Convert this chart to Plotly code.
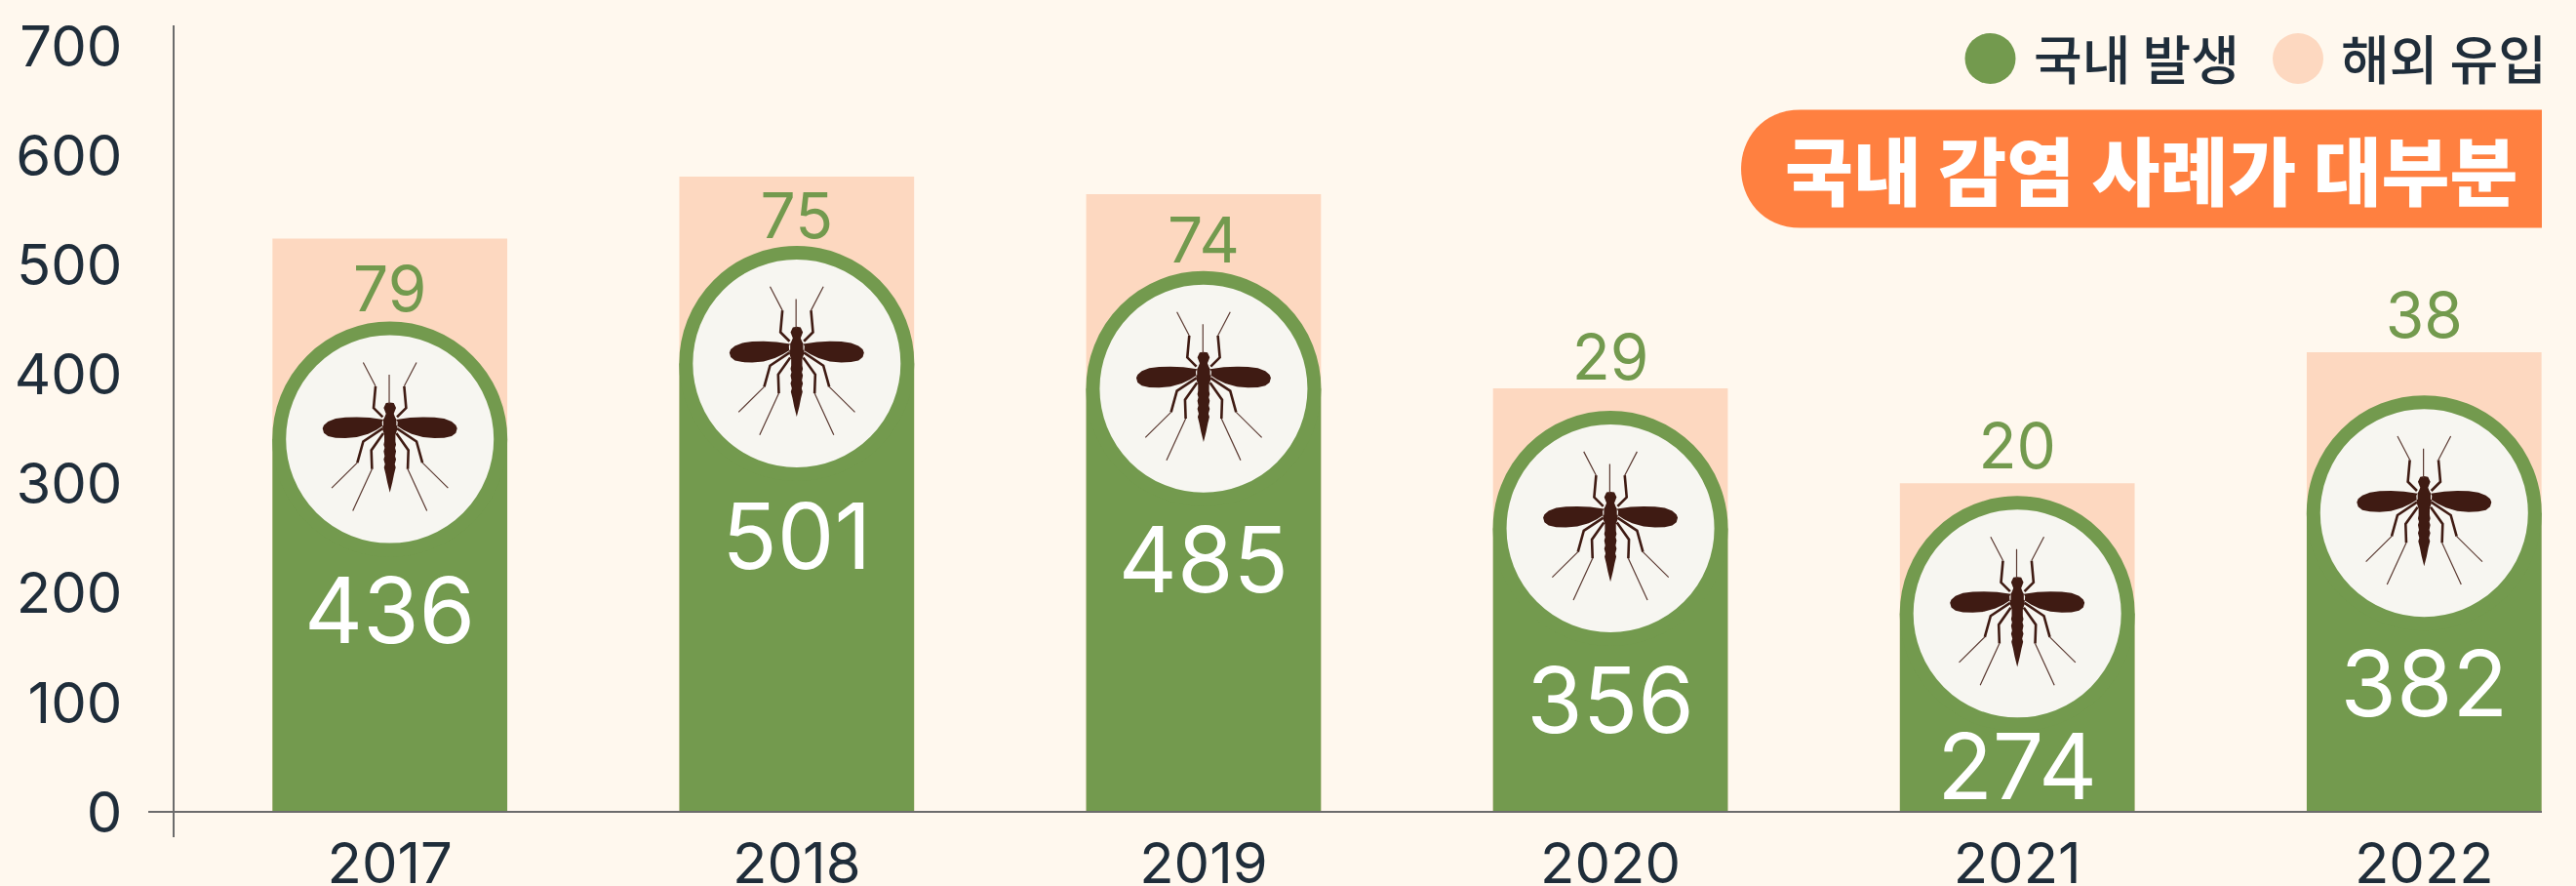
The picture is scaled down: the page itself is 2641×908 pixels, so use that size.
import plotly.graph_objects as go

years = [2017, 2018, 2019, 2020, 2021, 2022]
domestic_labels = [436, 501, 485, 356, 274, 382]
imported_labels = [79, 75, 74, 29, 20, 38]
# heights as read against the printed y axis
total_height = [524.6, 581.1, 565.0, 387.5, 300.8, 420.5]
domestic_height = [448.4, 517.7, 494.6, 366.8, 288.9, 381.0]
imported_label_y = [472.0, 539.4, 517.3, 410.1, 328.3, 448.6]
domestic_label_y = [175.1, 243.5, 221.4, 93.6, 33.0, 108.4]
y_ticks = [0, 100, 200, 300, 400, 500, 600, 700]
legend_names = ["국내 발생", "해외 유입"]
callout = "국내 감염 사례가 대부분"

GREEN, PEACH, BG, DISC, BUG, INK, AXIS, ORANGE = (
    "#739a4e", "#fdd8c0", "#fff8ee", "#f7f6f1", "#3f1b13", "#1f2d3a", "#6c6c6c", "#ff8040")
W, H = 2641, 908
L, R, T, B = 152, 2606, 25.5, 858
Y0, K = 832.3, 1.1214
X0, DX = 399.7, 417.12
NUM, CJK = "Inter", "Noto Sans CJK KR"


def px(p):
    return (p - L) / (R - L)


def py(p):
    return (B - p) / (B - T)


fig = go.Figure()
centre_y = [v - 120.4 / K for v in domestic_height]
fig.add_bar(x=years, y=total_height, width=0.5771, marker=dict(color=PEACH, line_width=0))
# the green column runs up to the disc's centre; the ringed disc forms its round head
fig.add_bar(x=years, y=centre_y, width=0.5771, marker=dict(color=GREEN, line_width=0))
fig.add_scatter(x=years, y=centre_y, mode="markers",
                marker=dict(size=227, color=DISC, line=dict(color=GREEN, width=14)))
fig.add_scatter(x=years, y=imported_label_y, mode="text", text=[str(v) for v in imported_labels],
                textposition="middle center", cliponaxis=False,
                textfont=dict(family=NUM, size=64, color=GREEN, weight=400))
fig.add_scatter(x=years, y=domestic_label_y, mode="text", text=[str(v) for v in domestic_labels],
                textposition="middle center", cliponaxis=False,
                textfont=dict(family=NUM, size=93, color="#ffffff", weight=400))


# ---- mosquito glyph: points measured in a 3x crop, centred on the disc
def g(p):
    return ((p[0] - 388) / 3, (358 - p[1]) / 3)


def mirror(p):
    return (776 - p[0], p[1])


def poly(points, close=True):
    s = "M" + " L".join(f"{x:.2f},{y:.2f}" for x, y in map(g, points))
    return s + (" Z" if close else "")


right_body = [(388, 245), (400, 247), (407, 262), (400, 280), (404, 290), (412, 305), (410, 330),
              (405, 345), (405, 365), (407, 375), (404, 385), (407, 395), (404, 410), (407, 420),
              (403, 435), (406, 445), (401, 465), (396, 490), (388, 522)]
body = right_body + [mirror(p) for p in reversed(right_body[:-1])]
right_wing = [(408, 298), (450, 292), (490, 290), (525, 291), (555, 295), (578, 304), (591, 315),
              (595, 325), (591, 339), (578, 349), (555, 354), (525, 355), (490, 352), (455, 342),
              (430, 330), (408, 316)]
wings = [right_wing, [mirror(p) for p in right_wing]]
thick = [[(410, 290), (438, 262), (432, 195)],
         [(410, 325), (470, 365), (488, 430)],
         [(408, 340), (445, 392), (443, 450)]]
thin = [[(432, 195), (470, 122)], [(488, 430), (567, 508)], [(443, 450), (502, 578)]]
thick_all = thick + [[mirror(p) for p in s] for s in thick]
thin_all = thin + [[mirror(p) for p in s] for s in thin] + [[(386, 160), (386, 250)]]

fill_path = " ".join([poly(body)] + [poly(w) for w in wings])
thick_path = " ".join(poly(s, False) for s in thick_all)
thin_path = " ".join(poly(s, False) for s in thin_all)

shapes = []
for yr, cy in zip(years, centre_y):
    base = dict(type="path", xref="x", yref="y", xsizemode="pixel", ysizemode="pixel",
                xanchor=yr, yanchor=cy, layer="above")
    shapes.append(dict(base, path=fill_path, fillcolor=BUG, line=dict(width=0)))
    shapes.append(dict(base, path=thick_path, line=dict(color=BUG, width=2.6)))
    shapes.append(dict(base, path=thin_path, line=dict(color="#5b3a32", width=1.2)))

# ---- legend and call-out, placed on the page
legend_x = [(2040.5, 2083), (2356, 2398)]
legend_cols = [GREEN, PEACH]
annotations = []
for (cx, tx), col, name in zip(legend_x, legend_cols, legend_names):
    shapes.append(dict(type="circle", xref="paper", yref="paper", xsizemode="pixel", ysizemode="pixel",
                       xanchor=px(cx), yanchor=py(59.5), x0=-26, x1=26, y0=-26, y1=26,
                       fillcolor=col, line=dict(width=0), layer="above"))
    annotations.append(dict(xref="paper", yref="paper", x=px(tx), y=py(58), xanchor="left", yanchor="middle",
                            text=name, showarrow=False, xshift=0,
                            font=dict(family=CJK, size=54, color=INK, weight=500)))

shapes.append(dict(type="path", xref="paper", yref="paper", xsizemode="pixel", ysizemode="pixel",
                   xanchor=1, yanchor=py(172.5),
                   path="M0,60.5 L-760,60.5 C-800,60.5 -821,30 -821,0 C-821,-30 -800,-60.5 -760,-60.5 L0,-60.5 Z",
                   fillcolor=ORANGE, line=dict(width=0), layer="above"))
annotations.append(dict(xref="paper", yref="paper", x=px(2205), y=py(172), xanchor="center", yanchor="middle",
                        text=callout, showarrow=False,
                        font=dict(family=CJK, size=76, color="#ffffff", weight=900)))

fig.update_layout(
    width=W, height=H, barmode="overlay", showlegend=False,
    paper_bgcolor=BG, plot_bgcolor=BG,
    margin=dict(l=L, r=W - R, t=T, b=H - B, autoexpand=False),
    shapes=shapes, annotations=annotations,
    xaxis=dict(range=[2017 + (L - X0) / DX, 2017 + (R - X0) / DX], tickmode="array",
               tickvals=years, ticktext=[str(y) for y in years], showgrid=False, zeroline=False,
               showline=True, linecolor=AXIS, linewidth=2, ticks="", anchor="free",
               position=(B - Y0) / (B - T), ticklabelstandoff=2,
               tickfont=dict(family=NUM, size=58, color=INK)),
    yaxis=dict(range=[(Y0 - B) / K, (Y0 - T) / K], tickmode="array", tickvals=y_ticks,
               showgrid=False, zeroline=False, showline=True, linecolor=AXIS, linewidth=2, ticks="",
               anchor="free", position=px(178), ticklabelstandoff=40,
               tickfont=dict(family=NUM, size=58, color=INK)),
)

fig.write_html("out.html", config=dict(displayModeBar=False), post_script=(
    "document.body.style.margin='0';document.documentElement.style.overflow='hidden';"))
